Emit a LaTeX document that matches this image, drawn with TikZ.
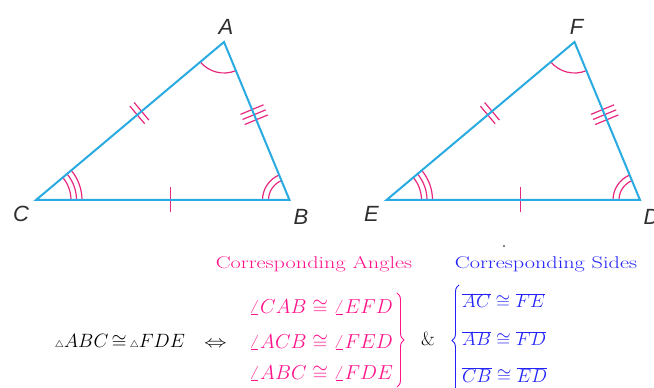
\RequirePackage{fix-cm}
\documentclass[tikz,border=0pt]{standalone}
\usepackage{fontspec}
\usepackage{graphicx}
\newfontfamily\labelfont{Liberation Sans}
\usetikzlibrary{angles,calc,decorations.markings,decorations.pathreplacing}
\definecolor{triblue}{RGB}{41,171,226}
\definecolor{markpink}{RGB}{232,40,128}
\definecolor{txtpink}{RGB}{255,20,140}
\definecolor{txtblue}{RGB}{35,35,250}
\tikzset{
  tri/.style={draw=triblue, line width=2pt, line join=miter},
  markline/.style={draw=markpink, line width=1.2pt},
  arcmark/.style={draw=markpink, line width=1.2pt, angle radius=#1},
  vlabel/.style={font=\labelfont\itshape\fontsize{22}{25}\selectfont, inner sep=0pt, text=black!82},
  mathtxt/.style={font=\fontsize{16.8}{20}\selectfont, inner sep=0pt},
  angtxt/.style={font=\fontsize{20.2}{24}\selectfont, inner sep=0pt, text=txtpink, anchor=base west},
  sidetxt/.style={font=\fontsize{18.8}{22}\selectfont, inner sep=0pt, text=txtblue, anchor=base west},
  headtxt/.style={font=\fontsize{17}{20}\selectfont, inner sep=0pt},
}
\newcommand\mytri[4]{%
  \begin{scope}[xshift=#4]
    \coordinate (#1) at (36,188);
    \coordinate (#2) at (224,346);
    \coordinate (#3) at (289.5,188);
    \pic[arcmark=31pt] {angle=#1--#2--#3};
    \pic[arcmark=35pt] {angle=#3--#1--#2};
    \pic[arcmark=40.5pt] {angle=#3--#1--#2};
    \pic[arcmark=46pt] {angle=#3--#1--#2};
    \pic[arcmark=21pt] {angle=#2--#3--#1};
    \pic[arcmark=27pt] {angle=#2--#3--#1};
    \path[decorate, decoration={markings, mark=at position 0.53 with {\draw[markline] (0,-12.5) -- (0,12.5);}}] (#1) -- (#3);
    \path[decorate, decoration={markings, mark=at position 0.55 with {\draw[markline] (-2.8,-11.5) -- (-2.8,11.5) (2.8,-11.5) -- (2.8,11.5);}}] (#1) -- (#2);
    \path[decorate, decoration={markings, mark=at position 0.46 with {\draw[markline] (-5.5,-12.5) -- (-5.5,12.5) (0,-12.5) -- (0,12.5) (5.5,-12.5) -- (5.5,12.5);}}] (#2) -- (#3);
    \draw[tri] (#1) -- (#2) -- (#3) -- cycle;
    \node[vlabel] (l#1) at ($(#1)+(-15,-14)$) {#1};
    \node[vlabel] (l#2) at ($(#2)+(2,15)$) {#2};
    \node[vlabel] (l#3) at ($(#3)+(11.5,-17)$) {#3};
  \end{scope}}
\begin{document}
\begin{tikzpicture}[x=1pt,y=1pt]
\useasboundingbox (0,0) rectangle (654,388);
\fill[white] (0,0) rectangle (654,388);
\mytri{C}{A}{B}{0pt}
\mytri{E}{F}{D}{350.5pt}
\fill[black] (504,142) circle (0.8);
% headers
\node[headtxt, text=txtpink, anchor=base] (hdrA) at (314,119.5) {\scalebox{1.31}[1]{Corresponding Angles}};
\node[headtxt, text=txtblue, anchor=base] (hdrS) at (546,119.5) {\scalebox{1.31}[1]{Corresponding Sides}};
% left statement
\node[mathtxt, anchor=base] (cong) at (120,40) {\resizebox{130pt}{!}{${\scriptscriptstyle\triangle}ABC\,{\cong}\,{\scriptscriptstyle\triangle}FDE$}};
\node[mathtxt, anchor=base] (iff) at (215.5,40) {\scalebox{1.35}[1]{$\Leftrightarrow$}};
% angles
\node[angtxt] (ang1) at (249,74) {$\angle CAB\cong\angle EFD$};
\node[angtxt] (ang2) at (249,39) {$\angle ACB\cong\angle FED$};
\node[angtxt] (ang3) at (249,8) {$\angle ABC\cong\angle FDE$};
\draw[txtpink, line width=0.9pt, decorate, decoration={brace, amplitude=7pt}] (397,95) -- (397,1);
\node[font=\fontsize{19}{22}\selectfont, inner sep=0pt, anchor=base] (amp) at (428,42) {\&};
\draw[txtblue, line width=0.9pt, decorate, decoration={brace, amplitude=7pt}] (459,-8) -- (459,103);
% sides
\node[sidetxt] (sd1) at (462,80) {$\overline{AC}\cong\overline{FE}$};
\node[sidetxt] (sd2) at (462,42) {$\overline{AB}\cong\overline{FD}$};
\node[sidetxt] (sd3) at (462,5.5) {$\overline{CB}\cong\overline{ED}$};
\end{tikzpicture}
\end{document}
